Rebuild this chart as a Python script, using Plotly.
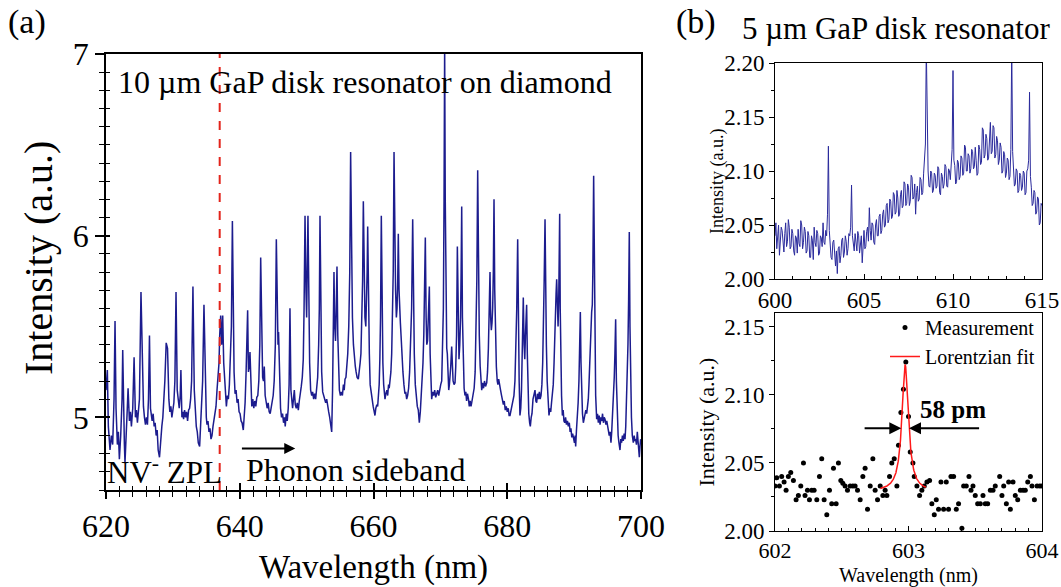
import numpy as np
import plotly.graph_objects as go

# ---------------- (a) 10 um GaP disk on diamond: PL spectrum ----------------
# 620-640 nm
wl_a1 = [
    620.0, 620.2, 620.35, 620.5, 620.6, 620.8, 621.0, 621.2, 621.35, 621.5,
    621.7, 621.85, 622.0, 622.2, 622.4, 622.5, 622.6, 622.75, 622.84, 623.0,
    623.15, 623.3, 623.5, 623.65, 623.8, 624.0, 624.2, 624.4, 624.55, 624.7,
    624.85, 625.0, 625.23, 625.45, 625.6, 625.75, 625.9, 626.05, 626.2, 626.35,
    626.5, 626.65, 626.8, 626.9, 627.05, 627.2, 627.35, 627.5, 627.65, 627.8,
    628.0, 628.2, 628.35, 628.5, 628.65, 628.8, 629.0, 629.2, 629.4, 629.55,
    629.7, 629.85, 630.0, 630.15, 630.3, 630.47, 630.65, 630.8, 630.95, 631.1,
    631.2, 631.35, 631.5, 631.6, 631.75, 631.9, 632.05, 632.2, 632.35, 632.5,
    632.65, 632.8, 633.0, 633.2, 633.35, 633.5, 633.65, 633.8, 634.0, 634.15,
    634.3, 634.45, 634.65, 634.85, 635.0, 635.1, 635.25, 635.4, 635.55, 635.7,
    635.85, 636.0, 636.15, 636.3, 636.45, 636.6, 636.75, 636.9, 637.0, 637.15,
    637.3, 637.45, 637.6, 637.75, 637.9, 638.0, 638.15, 638.3, 638.45, 638.6,
    638.75, 638.9, 639.05, 639.15, 639.3, 639.45, 639.6,
]
int_a1 = [
    5.15, 5.26, 4.95, 4.86, 4.82, 4.90, 4.85, 5.10, 5.53, 5.05,
    4.85, 4.92, 4.77, 4.90, 5.10, 5.37, 5.00, 4.85, 4.75, 4.95,
    5.02, 5.16, 4.98, 5.03, 4.95, 5.05, 5.33, 5.00, 5.04, 4.97,
    5.02, 5.10, 5.69, 5.20, 5.06, 5.00, 4.96, 5.00, 4.96, 5.10,
    5.45, 5.05, 5.00, 4.98, 5.02, 4.95, 4.97, 4.90, 4.93, 4.82,
    4.78, 4.90, 4.95, 5.00, 5.08, 5.20, 5.41, 5.38, 5.10, 5.03,
    5.06, 5.00, 5.04, 5.08, 5.20, 5.69, 5.15, 5.08, 5.05, 5.12,
    5.26, 5.00, 5.03, 4.99, 5.04, 5.00, 5.03, 4.98, 5.04, 5.05,
    5.10, 5.20, 5.72, 5.15, 5.02, 4.95, 4.92, 4.86, 4.84, 4.96,
    5.05, 5.20, 5.62, 5.10, 5.00, 4.96, 4.98, 4.92, 4.94, 4.88,
    4.90, 4.95, 4.98, 5.03, 5.06, 5.15, 5.22, 5.30, 5.45, 5.56,
    5.40, 5.56, 5.30, 5.18, 5.10, 5.06, 5.12, 5.10, 5.18, 5.30,
    5.50, 6.08, 5.45, 5.25, 5.13, 5.15, 5.08,
]
# 640-660 nm
wl_a2 = [
    639.75, 639.9, 640.05, 640.2, 640.35, 640.53, 640.65, 640.8, 640.95, 641.05,
    641.18, 641.3, 641.42, 641.53, 641.65, 641.8, 641.95, 642.1, 642.25, 642.4,
    642.55, 642.7, 642.85, 643.0, 643.13, 643.28, 643.42, 643.55, 643.67, 643.8,
    643.95, 644.1, 644.25, 644.4, 644.55, 644.7, 644.85, 645.0, 645.15, 645.32,
    645.47, 645.6, 645.72, 645.8, 645.95, 646.1, 646.25, 646.4, 646.55, 646.7,
    646.8, 646.95, 647.1, 647.25, 647.38, 647.51, 647.65, 647.78, 647.9, 648.03,
    648.16, 648.3, 648.45, 648.6, 648.76, 648.9, 649.05, 649.2, 649.35, 649.5,
    649.62, 649.76, 649.9, 650.0, 650.2, 650.32, 650.45, 650.6, 650.76, 650.9,
    651.05, 651.2, 651.35, 651.5, 651.65, 651.8, 651.9, 652.0, 652.12, 652.25,
    652.4, 652.55, 652.7, 652.85, 653.0, 653.15, 653.3, 653.45, 653.6, 653.75,
    653.88, 653.98, 654.09, 654.2, 654.32, 654.43, 654.54, 654.66, 654.78, 654.9,
    655.05, 655.2, 655.35, 655.5, 655.62, 655.74, 655.88, 656.0, 656.15, 656.3,
    656.45, 656.58, 656.7, 656.85, 657.0, 657.13, 657.28, 657.4, 657.55, 657.73,
    657.88, 658.0, 658.12, 658.25, 658.37, 658.48, 658.6, 658.72, 658.85, 658.95,
    659.05, 659.13, 659.25, 659.38, 659.5,
]
int_a2 = [
    5.10, 5.03, 5.02, 4.98, 4.97, 4.93, 5.00, 5.08, 5.25, 5.35,
    5.59, 5.25, 5.28, 5.36, 5.15, 5.06, 5.10, 5.05, 5.09, 5.06,
    5.11, 5.12, 5.20, 5.40, 5.88, 5.35, 5.22, 5.20, 5.28, 5.12,
    5.08, 5.05, 5.08, 5.03, 5.02, 5.06, 5.08, 5.12, 5.20, 5.40,
    5.98, 5.45, 5.40, 5.47, 5.15, 5.05, 5.00, 5.02, 4.97, 5.00,
    4.95, 5.02, 4.98, 5.05, 5.18, 5.60, 5.15, 5.06, 5.05, 5.10,
    5.15, 5.07, 5.05, 5.08, 5.04, 5.09, 5.12, 5.17, 5.22, 5.32,
    5.60, 6.11, 5.70, 5.55, 6.11, 5.60, 5.30, 5.15, 5.12, 5.14,
    5.10, 5.13, 5.10, 5.16, 5.22, 5.40, 5.60, 6.11, 5.50, 5.25,
    5.14, 5.12, 5.10, 5.08, 5.10, 5.05, 5.03, 5.00, 4.96, 4.92,
    5.15, 5.45, 5.80, 5.50, 5.42, 5.60, 5.83, 5.45, 5.25, 5.15,
    5.12, 5.14, 5.12, 5.18, 5.15, 5.21, 5.22, 5.28, 5.35, 5.50,
    5.80, 6.46, 5.80, 5.55, 5.40, 5.32, 5.28, 5.25, 5.22, 5.21,
    5.25, 5.30, 5.35, 5.50, 5.75, 6.19, 5.80, 5.55, 5.50, 5.62,
    5.80, 6.05, 5.60, 5.35, 5.18,
]
# 660-680 nm
wl_a3 = [
    659.65, 659.8, 659.95, 660.1, 660.22, 660.35, 660.5, 660.62, 660.72, 660.85,
    660.95, 661.05, 661.17, 661.28, 661.4, 661.52, 661.62, 661.72, 661.85, 662.0,
    662.12, 662.25, 662.35, 662.47, 662.6, 662.72, 662.85, 662.95, 663.07, 663.18,
    663.3, 663.42, 663.52, 663.62, 663.71, 663.82, 663.92, 664.02, 664.12, 664.25,
    664.4, 664.55, 664.7, 664.82, 664.96, 665.1, 665.25, 665.4, 665.55, 665.7,
    665.86, 665.98, 666.1, 666.25, 666.4, 666.55, 666.7, 666.85, 667.0, 667.12,
    667.25, 667.4, 667.52, 667.63, 667.75, 667.87, 667.97, 668.08, 668.2, 668.35,
    668.47, 668.58, 668.7, 668.85, 669.0, 669.15, 669.3, 669.45, 669.6, 669.75,
    669.9, 670.05, 670.2, 670.33, 670.45, 670.55, 670.64, 670.73, 670.85, 670.95,
    671.04, 671.15, 671.25, 671.35, 671.44, 671.55, 671.69, 671.8, 671.9, 672.05,
    672.19, 672.3, 672.42, 672.54, 672.65, 672.78, 672.9, 673.02, 673.1, 673.19,
    673.3, 673.42, 673.55, 673.68, 673.8, 673.92, 674.05, 674.2, 674.32, 674.45,
    674.58, 674.68, 674.8, 674.92, 675.05, 675.2, 675.32, 675.45, 675.58, 675.7,
    675.82, 675.95, 676.08, 676.18, 676.3, 676.45, 676.6, 676.75, 676.93, 677.05,
    677.18, 677.3, 677.42, 677.52, 677.62, 677.72, 677.82, 677.92, 678.02, 678.13,
    678.25, 678.37, 678.5, 678.6, 678.72, 678.85, 679.0, 679.15, 679.3, 679.42,
    679.55, 679.7,
]
int_a3 = [
    5.12, 5.10, 5.06, 5.04, 5.01, 5.05, 5.07, 5.06, 5.10, 5.18,
    5.32, 5.55, 6.11, 5.60, 5.30, 5.18, 5.14, 5.10, 5.13, 5.15,
    5.12, 5.18, 5.16, 5.21, 5.25, 5.35, 5.55, 5.80, 6.46, 5.90,
    5.70, 5.55, 5.60, 5.75, 6.01, 5.70, 5.55, 5.52, 5.45, 5.33,
    5.25, 5.18, 5.13, 5.14, 5.10, 5.12, 5.16, 5.25, 5.40, 5.60,
    6.09, 5.60, 5.35, 5.18, 5.10, 5.06, 5.04, 4.97, 5.03, 5.10,
    5.18, 5.30, 5.45, 5.65, 5.99, 5.55, 5.40, 5.42, 5.52, 5.72,
    5.35, 5.18, 5.10, 5.14, 5.12, 5.15, 5.11, 5.13, 5.15, 5.12,
    5.16, 5.18, 5.20, 5.35, 5.60, 6.20, 7.05, 6.20, 5.55, 5.38,
    5.35, 5.20, 5.15, 5.18, 5.21, 5.28, 5.39, 5.25, 5.20, 5.18,
    5.19, 5.28, 5.45, 5.94, 5.45, 5.32, 5.40, 5.55, 5.80, 6.16,
    5.55, 5.28, 5.16, 5.12, 5.14, 5.09, 5.13, 5.10, 5.06, 5.09,
    5.06, 5.08, 5.10, 5.12, 5.16, 5.25, 5.42, 5.75, 6.36, 5.75,
    5.45, 5.28, 5.18, 5.15, 5.19, 5.16, 5.20, 5.17, 5.19, 5.25,
    5.38, 5.55, 5.80, 5.55, 5.48, 5.52, 5.60, 5.80, 6.20, 5.70,
    5.45, 5.28, 5.20, 5.18, 5.21, 5.17, 5.15, 5.12, 5.10, 5.07,
    5.09, 5.04,
]
# 680-700 nm
wl_a4 = [
    679.85, 680.0, 680.15, 680.28, 680.41, 680.55, 680.7, 680.85, 681.0, 681.15,
    681.28, 681.42, 681.56, 681.68, 681.78, 681.9, 682.02, 682.13, 682.25, 682.4,
    682.52, 682.62, 682.72, 682.82, 682.9, 683.0, 683.1, 683.22, 683.35, 683.45,
    683.58, 683.7, 683.85, 684.0, 684.15, 684.28, 684.4, 684.52, 684.65, 684.8,
    684.92, 685.05, 685.18, 685.3, 685.42, 685.52, 685.65, 685.75, 685.85, 685.97,
    686.1, 686.24, 686.38, 686.5, 686.62, 686.75, 686.88, 687.0, 687.12, 687.22,
    687.3, 687.39, 687.5, 687.6, 687.7, 687.78, 687.84, 687.92, 688.02, 688.12,
    688.24, 688.36, 688.48, 688.6, 688.72, 688.85, 689.0, 689.13, 689.28, 689.4,
    689.52, 689.65, 689.78, 689.9, 690.05, 690.15, 690.23, 690.35, 690.48, 690.6,
    690.72, 690.82, 690.93, 691.03, 691.13, 691.25, 691.38, 691.5, 691.62, 691.75,
    691.88, 692.0, 692.12, 692.22, 692.32, 692.42, 692.52, 692.62, 692.72, 692.8,
    692.92, 693.02, 693.12, 693.22, 693.37, 693.5, 693.62, 693.75, 693.88, 694.0,
    694.12, 694.25, 694.38, 694.5, 694.62, 694.75, 694.88, 695.0, 695.12, 695.25,
    695.38, 695.51, 695.62, 695.75, 695.88, 696.0, 696.1, 696.21, 696.32, 696.45,
    696.58, 696.7, 696.86, 696.98, 697.1, 697.22, 697.35, 697.48, 697.61, 697.72,
    697.85, 697.95, 698.05, 698.15, 698.25, 698.35, 698.45, 698.57, 698.7, 698.85,
    698.98, 699.1, 699.2, 699.32, 699.45, 699.55, 699.65, 699.75, 699.85, 699.95,
]
int_a4 = [
    5.06, 5.03, 5.05, 5.01, 5.01, 5.04, 5.06, 5.08, 5.12, 5.20,
    5.35, 5.60, 5.98, 5.45, 5.20, 5.01, 5.05, 5.15, 5.35, 5.66,
    5.40, 5.32, 5.45, 5.55, 5.62, 5.35, 5.12, 5.02, 4.97, 4.95,
    5.00, 5.02, 5.10, 5.14, 5.15, 5.09, 5.08, 5.13, 5.10, 5.14,
    5.10, 5.12, 5.18, 5.30, 5.50, 5.75, 6.09, 5.60, 5.40, 5.20,
    5.08, 5.01, 5.05, 5.03, 5.08, 5.12, 5.18, 5.30, 5.50, 5.60,
    5.68, 5.76, 5.55, 5.50, 5.65, 5.85, 6.12, 5.60, 5.30, 5.12,
    5.01, 5.04, 4.98, 4.97, 5.00, 4.96, 4.98, 4.95, 4.97, 4.92,
    4.94, 4.89, 4.91, 4.88, 4.86, 4.90, 4.84, 4.93, 5.00, 5.08,
    5.20, 5.35, 5.58, 5.30, 5.12, 5.02, 4.97, 5.00, 5.01, 5.04,
    5.02, 5.05, 5.10, 5.18, 5.30, 5.45, 5.56, 5.58, 5.62, 5.80,
    6.33, 5.70, 5.35, 5.12, 4.99, 5.02, 4.97, 5.01, 4.96, 5.00,
    4.98, 5.02, 4.97, 5.00, 4.99, 4.96, 4.98, 4.95, 4.93, 4.90,
    4.92, 4.86, 4.92, 5.00, 5.12, 5.22, 5.35, 5.54, 5.20, 4.98,
    4.90, 4.86, 4.82, 4.88, 4.86, 4.90, 4.87, 4.91, 4.88, 4.95,
    5.10, 5.22, 5.40, 5.65, 6.02, 5.50, 5.20, 5.00, 4.90, 4.86,
    4.90, 4.87, 4.88, 4.85, 4.92, 4.86, 4.80, 4.78, 4.84, 4.88,
]
NV_ZPL_NM = 637.0

# ---------------- (b) 5 um GaP disk: wide spectrum, 0.05 nm steps from 600 nm ----------------
int_b = [
    2.040, 2.052, 2.028, 2.036, 2.050, 2.022, 2.032, 2.048, 2.045, 2.030,
    2.025, 2.042, 2.052, 2.030, 2.035, 2.055, 2.048, 2.028, 2.030, 2.046,
    2.042, 2.026, 2.022, 2.040, 2.038, 2.024, 2.046, 2.033, 2.030, 2.054,
    2.050, 2.028, 2.034, 2.048, 2.044, 2.024, 2.026, 2.044, 2.040, 2.020,
    2.020, 2.040, 2.036, 2.018, 2.048, 2.034, 2.030, 2.045, 2.042, 2.022,
    2.024, 2.040, 2.038, 2.030, 2.052, 2.034, 2.032, 2.045, 2.040, 2.060,
    2.123, 2.045, 2.030, 2.020, 2.018, 2.034, 2.036, 2.016, 2.012, 2.026,
    2.005, 2.028, 2.030, 2.015, 2.022, 2.036, 2.038, 2.020, 2.025, 2.040,
    2.035, 2.022, 2.028, 2.042, 2.040, 2.048, 2.087, 2.040, 2.030, 2.026,
    2.042, 2.030, 2.026, 2.044, 2.040, 2.024, 2.032, 2.040, 2.015, 2.034,
    2.045, 2.028, 2.030, 2.044, 2.048, 2.035, 2.066, 2.045, 2.036, 2.052,
    2.050, 2.034, 2.032, 2.050, 2.055, 2.040, 2.040, 2.058, 2.060, 2.042,
    2.045, 2.060, 2.064, 2.048, 2.050, 2.068, 2.070, 2.052, 2.055, 2.074,
    2.072, 2.056, 2.058, 2.080, 2.078, 2.060, 2.062, 2.082, 2.075, 2.058,
    2.060, 2.078, 2.082, 2.066, 2.068, 2.090, 2.088, 2.068, 2.070, 2.088,
    2.085, 2.068, 2.072, 2.096, 2.094, 2.074, 2.076, 2.088, 2.060, 2.080,
    2.086, 2.072, 2.074, 2.094, 2.092, 2.078, 2.080, 2.098, 2.110, 2.125,
    2.215, 2.120, 2.100, 2.086, 2.085, 2.100, 2.098, 2.080, 2.082, 2.098,
    2.096, 2.084, 2.086, 2.104, 2.102, 2.080, 2.078, 2.098, 2.095, 2.084,
    2.088, 2.106, 2.104, 2.086, 2.085, 2.102, 2.100, 2.092, 2.110, 2.120,
    2.193, 2.110, 2.105, 2.088, 2.090, 2.110, 2.108, 2.092, 2.095, 2.114,
    2.112, 2.096, 2.098, 2.124, 2.122, 2.100, 2.100, 2.116, 2.114, 2.098,
    2.102, 2.120, 2.118, 2.102, 2.104, 2.122, 2.110, 2.096, 2.098, 2.124,
    2.120, 2.106, 2.108, 2.140, 2.138, 2.112, 2.115, 2.134, 2.130, 2.110,
    2.112, 2.136, 2.145, 2.116, 2.118, 2.142, 2.140, 2.112, 2.115, 2.132,
    2.128, 2.106, 2.110, 2.126, 2.122, 2.098, 2.100, 2.118, 2.115, 2.094,
    2.098, 2.112, 2.110, 2.092, 2.095, 2.120, 2.215, 2.118, 2.105, 2.086,
    2.088, 2.102, 2.100, 2.080, 2.082, 2.098, 2.096, 2.082, 2.085, 2.100,
    2.098, 2.078, 2.080, 2.100, 2.102, 2.110, 2.173, 2.095, 2.085, 2.068,
    2.070, 2.082, 2.080, 2.060, 2.062, 2.076, 2.074, 2.050, 2.052, 2.070,
    2.068,
]
wl_b = np.round(600.0 + 0.05 * np.arange(len(int_b)), 2)

# ---------------- (b) zoom on the 603 nm resonance ----------------
wl_meas = [
    602.000, 602.013, 602.033, 602.050, 602.068, 602.083, 602.100, 602.118, 602.138, 602.158,
    602.175, 602.193, 602.213, 602.225, 602.243, 602.258, 602.275, 602.293, 602.313, 602.333,
    602.350, 602.368, 602.388, 602.408, 602.425, 602.438, 602.458, 602.475, 602.493, 602.508,
    602.525, 602.543, 602.563, 602.583, 602.600, 602.618, 602.638, 602.658, 602.675, 602.693,
    602.713, 602.733, 602.750, 602.768, 602.788, 602.808, 602.825, 602.838, 602.858, 602.875,
    602.893, 602.913, 602.925, 602.943, 602.962, 602.980, 603.000, 603.013, 603.033, 603.043,
    603.063, 603.083, 603.100, 603.118, 603.138, 603.158, 603.175, 603.193, 603.208, 603.225,
    603.243, 603.263, 603.283, 603.300, 603.318, 603.338, 603.358, 603.375, 603.400, 603.413,
    603.433, 603.453, 603.468, 603.483, 603.500, 603.518, 603.538, 603.558, 603.575, 603.593,
    603.613, 603.633, 603.650, 603.683, 603.700, 603.713, 603.733, 603.750, 603.763, 603.783,
    603.800, 603.818, 603.838, 603.858, 603.875, 603.893, 603.913, 603.925, 603.943, 603.963,
    603.983, 604.000,
]
int_meas = [
    2.033, 2.039, 2.033, 2.040, 2.036, 2.030, 2.040, 2.043, 2.037, 2.023,
    2.026, 2.033, 2.050, 2.026, 2.030, 2.023, 2.030, 2.030, 2.023, 2.040,
    2.053, 2.023, 2.012, 2.030, 2.020, 2.046, 2.020, 2.050, 2.037, 2.035,
    2.033, 2.030, 2.033, 2.033, 2.033, 2.030, 2.023, 2.040, 2.046, 2.016,
    2.033, 2.053, 2.030, 2.023, 2.033, 2.026, 2.030, 2.026, 2.040, 2.050,
    2.053, 2.033, 2.063, 2.087, 2.104, 2.124, 2.084, 2.058, 2.050, 2.040,
    2.033, 2.026, 2.030, 2.033, 2.036, 2.037, 2.020, 2.012, 2.023, 2.016,
    2.036, 2.016, 2.036, 2.016, 2.040, 2.040, 2.016, 2.020, 2.002, 2.033,
    2.033, 2.040, 2.030, 2.033, 2.026, 2.020, 2.020, 2.026, 2.020, 2.020,
    2.030, 2.030, 2.033, 2.040, 2.026, 2.033, 2.020, 2.036, 2.016, 2.036,
    2.026, 2.023, 2.030, 2.030, 2.030, 2.036, 2.040, 2.033, 2.023, 2.033,
    2.033, 2.033,
]

# Lorentzian fit parameters (FWHM = 58 pm)
FIT_CENTER = 602.975
FIT_FWHM_PM = 58.0
FIT_AMP = 0.093
FIT_BASE = 2.029
FIT_SPAN = (602.79, 603.13)

wl_a = wl_a1 + wl_a2 + wl_a3 + wl_a4
int_a = int_a1 + int_a2 + int_a3 + int_a4
assert len(wl_a) == len(int_a)
assert len(wl_meas) == len(int_meas)

fit_x = np.linspace(FIT_SPAN[0], FIT_SPAN[1], 400)
half_w = FIT_FWHM_PM / 1000.0 / 2.0
fit_y = FIT_BASE + FIT_AMP / (1.0 + ((fit_x - FIT_CENTER) / half_w) ** 2)

# ---------------- figure geometry ----------------
W, H = 1061, 587
FONT = "Liberation Serif, Times New Roman, serif"
NAVY = "#1c1c8e"


def fx(px):
    return px / W


def fy(py):
    return 1 - py / H


A_X = [fx(106), fx(641)]
A_Y = [fy(490), fy(54)]
B_X = [fx(775), fx(1042)]
B1_Y = [fy(279), fy(63)]
B2_Y = [fy(531), fy(313)]

fig = go.Figure()

fig.add_trace(go.Scatter(x=wl_a, y=int_a, mode="lines", line=dict(color=NAVY, width=1.5),
                         xaxis="x", yaxis="y", showlegend=False, hoverinfo="skip"))
# carrier trace for the inward half of the crossing ticks on panel (a)
fig.add_trace(go.Scatter(x=[660], y=[6], mode="markers", marker=dict(opacity=0, size=1),
                         xaxis="x4", yaxis="y4", showlegend=False, hoverinfo="skip"))

fig.add_trace(go.Scatter(x=wl_b, y=int_b, mode="lines", line=dict(color="#2a2a9c", width=1.0),
                         xaxis="x2", yaxis="y2", showlegend=False, hoverinfo="skip"))

fig.add_trace(go.Scatter(x=wl_meas, y=int_meas, mode="markers", name="Measurement",
                         marker=dict(color="black", size=5), xaxis="x3", yaxis="y3"))
fig.add_trace(go.Scatter(x=fit_x, y=fit_y, mode="lines", name="Lorentzian fit",
                         line=dict(color="#ff1a1a", width=1.5), xaxis="x3", yaxis="y3"))


def axis(**kw):
    base = dict(showgrid=False, zeroline=False, showline=True, linecolor="black",
                mirror=True, automargin=False, tickcolor="black",
                tickfont=dict(family=FONT, color="black"))
    base.update(kw)
    return base


lay = dict(
    width=W, height=H, autosize=False,
    margin=dict(l=0, r=0, t=0, b=0),
    paper_bgcolor="white", plot_bgcolor="white",
    template="none",
    font=dict(family=FONT, color="black"),
    showlegend=True,
)

# panel (a)
lay["xaxis"] = axis(domain=A_X, anchor="y", range=[620, 700], tick0=620, dtick=20,
                    ticks="outside", ticklen=7, tickwidth=1.5, linewidth=1.5,
                    minor=dict(dtick=2, ticks="outside", ticklen=5, tickwidth=1.2, tickcolor="black"),
                    tickfont=dict(family=FONT, size=32, color="black"),
                    title=dict(text="Wavelength (nm)", standoff=12,
                               font=dict(family=FONT, size=33, color="black")))
lay["yaxis"] = axis(domain=A_Y, anchor="x", range=[4.6, 7.0], tick0=5, dtick=1,
                    ticks="outside", ticklen=9, tickwidth=1.5, linewidth=1.5,
                    minor=dict(dtick=0.1, tick0=5, ticks="outside", ticklen=5, tickwidth=1.2, tickcolor="black"),
                    tickfont=dict(family=FONT, size=32, color="black"))
# inward half of the crossing ticks
lay["xaxis4"] = dict(overlaying="x", anchor="y4", range=[620, 700], tick0=620, dtick=20,
                     ticks="inside", ticklen=7, tickwidth=1.5, tickcolor="black",
                     minor=dict(dtick=2, ticks="inside", ticklen=4, tickwidth=1.2, tickcolor="black"),
                     showticklabels=False, showline=False, showgrid=False, zeroline=False)
lay["yaxis4"] = dict(overlaying="y", anchor="x4", side="left", range=[4.6, 7.0], tick0=5, dtick=1,
                     ticks="inside", ticklen=4, tickwidth=1.5, tickcolor="black",
                     minor=dict(dtick=0.1, tick0=5, ticks="inside", ticklen=4, tickwidth=1.2, tickcolor="black"),
                     showticklabels=False, showline=False, showgrid=False, zeroline=False)

# panel (b) top
lay["xaxis2"] = axis(domain=B_X, anchor="y2", range=[600, 615], tick0=600, dtick=5,
                     ticks="inside", ticklen=5, tickwidth=1, linewidth=1,
                     minor=dict(dtick=1, ticks="inside", ticklen=3, tickwidth=1, tickcolor="black"),
                     tickfont=dict(family=FONT, size=23, color="black"))
lay["yaxis2"] = axis(domain=B1_Y, anchor="x2", range=[2.0, 2.2], tick0=2.0, dtick=0.05,
                     tickformat=".2f", ticks="outside", ticklen=5, tickwidth=1, linewidth=1,
                     minor=dict(dtick=0.025, ticks="outside", ticklen=3, tickwidth=1, tickcolor="black"),
                     tickfont=dict(family=FONT, size=23, color="black"))

# panel (b) bottom
lay["xaxis3"] = axis(domain=B_X, anchor="y3", range=[602, 604], tick0=602, dtick=1,
                     ticks="inside", ticklen=5, tickwidth=1, linewidth=1,
                     minor=dict(dtick=0.1, ticks="inside", ticklen=3, tickwidth=1, tickcolor="black"),
                     tickfont=dict(family=FONT, size=22, color="black"),
                     title=dict(text="Wavelength (nm)", standoff=6,
                                font=dict(family=FONT, size=20, color="black")))
lay["yaxis3"] = axis(domain=B2_Y, anchor="x3", range=[2.0, 2.16], tick0=2.0, dtick=0.05,
                     tickformat=".2f", ticks="outside", ticklen=5, tickwidth=1, linewidth=1,
                     minor=dict(dtick=0.025, ticks="outside", ticklen=3, tickwidth=1, tickcolor="black"),
                     tickfont=dict(family=FONT, size=23, color="black"),
                     title=dict(text="Intensity (a.u.)", standoff=3,
                                font=dict(family=FONT, size=22, color="black")))

lay["legend"] = dict(x=fx(1040), y=fy(308), xanchor="right", yanchor="top",
                     bgcolor="rgba(0,0,0,0)", borderwidth=0, tracegroupgap=0,
                     font=dict(family=FONT, size=20, color="black"))

# NV- zero-phonon line marker
lay["shapes"] = [dict(type="line", xref="x", yref="y domain", x0=NV_ZPL_NM, x1=NV_ZPL_NM,
                      y0=0, y1=1, line=dict(color="#e3241b", width=2, dash="dash"))]

ann = []


def text(px, py, s, size, anchor="left", angle=0):
    ann.append(dict(xref="paper", yref="paper", x=fx(px), y=fy(py), text=s, textangle=angle,
                    showarrow=False, xanchor=anchor, yanchor="middle",
                    font=dict(family=FONT, size=size, color="black")))


text(6, 22, "(a)", 34)
text(674, 22, "(b)", 34)
text(740, 28, "5 \u00b5m GaP disk resonator", 31)
text(116, 82, "10 \u00b5m GaP disk resonator on diamond", 32)
text(105, 470, "NV<sup>-</sup> ZPL", 31)
text(244, 470, "Phonon sideband", 32)
# y-axis titles of panel (a) and of the upper panel (b)
text(38, 258, "Intensity (a.u.)", 40, anchor="center", angle=-90)
text(717, 182, "Intensity (a.u.)", 18, anchor="center", angle=-90)

# phonon sideband arrow
ann.append(dict(xref="x", yref="y", axref="x", ayref="y", x=648.3, y=4.828, ax=640.1, ay=4.828,
                text="", showarrow=True, arrowhead=2, arrowsize=1.1, arrowwidth=2, arrowcolor="black"))

# FWHM arrows around the fitted resonance
half_y = FIT_BASE + FIT_AMP / 2.0
ann.append(dict(xref="x3", yref="y3", axref="x3", ayref="y3",
                x=FIT_CENTER - half_w, y=half_y, ax=602.66, ay=half_y,
                text="", showarrow=True, arrowhead=2, arrowsize=1.2, arrowwidth=2, arrowcolor="black"))
ann.append(dict(xref="x3", yref="y3", axref="x3", ayref="y3",
                x=FIT_CENTER + half_w, y=half_y, ax=603.54, ay=half_y,
                text="", showarrow=True, arrowhead=2, arrowsize=1.2, arrowwidth=2, arrowcolor="black"))
ann.append(dict(xref="x3", yref="y3", x=603.07, y=2.089, text="<b>%d pm</b>" % FIT_FWHM_PM,
                showarrow=False, xanchor="left", yanchor="middle",
                font=dict(family=FONT, size=25, color="black")))

lay["annotations"] = ann
fig.update_layout(**lay)

fig.write_html("out.html")
